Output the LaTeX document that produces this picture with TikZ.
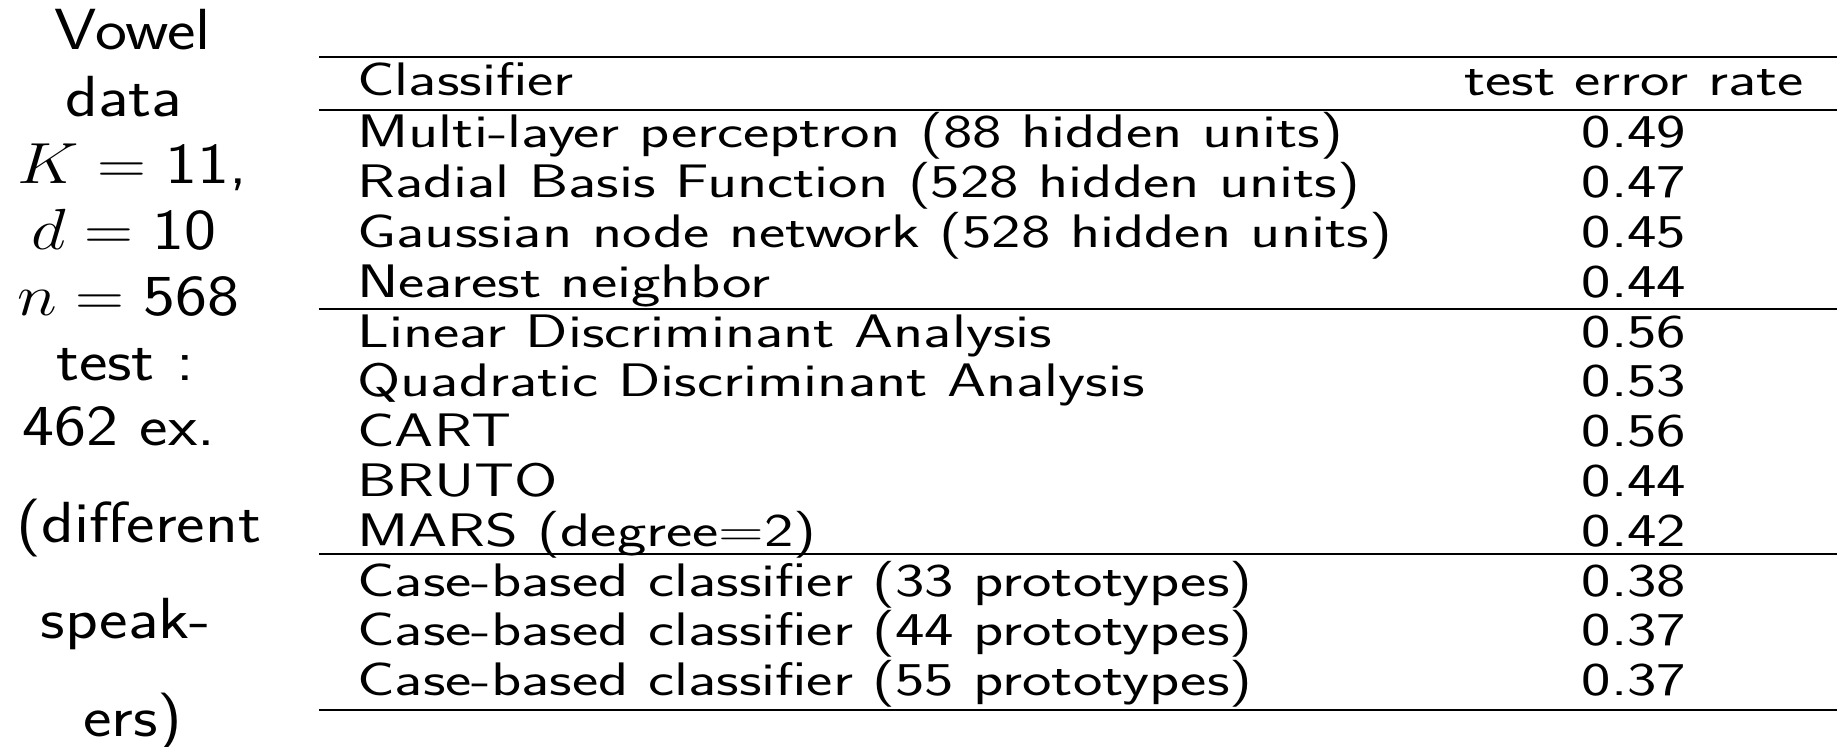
\documentclass[tikz,border=0pt]{standalone}
\usepackage{fix-cm}
\usepackage{fontspec}
\usepackage{graphicx}
\newcommand{\tabfont}{\fontsize{23.5}{28}\selectfont\sffamily}
\newcommand{\sidefont}{\fontsize{29}{34}\selectfont\sffamily}
\newcommand{\widetab}[1]{\scalebox{1.33}[1]{#1}}
\newcommand{\wideside}[1]{\scalebox{1.17}[1]{#1}}

\begin{document}
\begin{tikzpicture}[x=0.5pt,y=-0.5pt,
  rule/.style={line width=1.4pt},
  cell/.style={anchor=base west,inner sep=0pt,font=\tabfont},
  num/.style={anchor=base,inner sep=0pt,font=\tabfont},
  side/.style={anchor=base,inner sep=0pt,font=\sidefont}]
\useasboundingbox (0,0) rectangle (1837,747);
% left column
\foreach \txt/\cx/\by [count=\i] in {Vowel/133/50,data/124/117,{$K=\mbox{11}$,}/132/184,{$d=\mbox{10}$}/124/250,{$n=\mbox{568}$}/128/316,test :/125/381,462 ex./119/446,{(different}/139/543,speak-/126/639,{ers)}/133/737}
  \node[side] (l\i) at (\cx,\by) {\wideside{\txt}};
% rules
\foreach \y in {57,110,309,554,710}{\draw[rule] (319,\y)--(1837,\y);}
% header
\node[cell] (hclass) at (357,96) {\widetab{Classifier}};
\node[num] (herr) at (1634,96) {\widetab{test error rate}};
% rows
\foreach \name/\err [count=\i] in {Multi-layer perceptron (88 hidden units)/0.49,Radial Basis Function (528 hidden units)/0.47,Gaussian node network (528 hidden units)/0.45,Nearest neighbor/0.44,Linear Discriminant Analysis/0.56,Quadratic Discriminant Analysis/0.53,CART/0.56,BRUTO/0.44,MARS (degree=2)/0.42,Case-based classifier (33 prototypes)/0.38,Case-based classifier (44 prototypes)/0.37,Case-based classifier (55 prototypes)/0.37}{
  \node[cell] (c\i) at (357,{148+(\i-1)*49.8}) {\widetab{\name}};
  \node[num] (e\i) at (1634,{148+(\i-1)*49.8}) {\widetab{\err}};
}
\end{tikzpicture}
\end{document}
